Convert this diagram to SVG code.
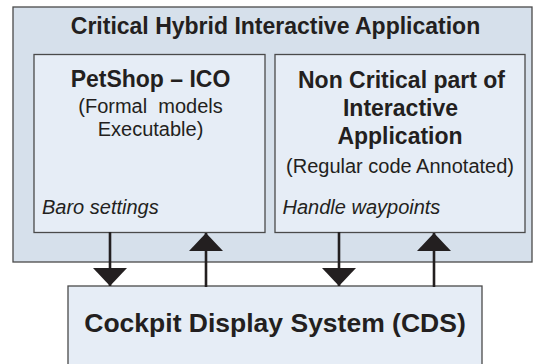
<svg xmlns="http://www.w3.org/2000/svg" width="535" height="364" viewBox="0 0 535 364">
  <style>
    .outer { fill: #d6e0eb; stroke: #4a4a4a; stroke-width: 1.3; }
    .inner { fill: #e6edf6; stroke: #4a4a4a; stroke-width: 1.3; }
    .b { font-family: "Liberation Sans", Arial, sans-serif; font-weight: bold; fill: #231f20; text-anchor: middle; }
    .r { font-family: "Liberation Sans", Arial, sans-serif; font-size: 20px; fill: #231f20; text-anchor: middle; }
    .i { font-family: "Liberation Sans", Arial, sans-serif; font-size: 20px; font-style: italic; fill: #231f20; }
    .conn { stroke: #231f20; stroke-width: 2.6; fill: none; }
  </style>
  <defs>
    <marker id="ah" markerUnits="userSpaceOnUse" markerWidth="18" markerHeight="34" viewBox="0 0 18 34" refX="18" refY="17" orient="auto">
      <path d="M0,0 L18,17 L0,34 Z" fill="#231f20"/>
    </marker>
  </defs>
  <g id="app">
    <rect class="outer" x="13" y="7" width="519" height="255"/>
    <text class="b" x="275.5" y="34" font-size="23">Critical Hybrid Interactive Application</text>
  </g>
  <g id="petshop">
    <rect class="inner" x="34" y="54.5" width="231" height="178"/>
    <text class="b" x="150.5" y="87" font-size="23">PetShop – ICO</text>
    <text class="r" x="150.5" y="113" xml:space="preserve">(Formal  models</text>
    <text class="r" x="150.5" y="136">Executable)</text>
    <text class="i" x="42" y="214">Baro settings</text>
  </g>
  <g id="noncritical">
    <rect class="inner" x="275" y="54.5" width="250" height="178"/>
    <text class="b" x="401.5" y="88" font-size="23">Non Critical part of</text>
    <text class="b" x="400.5" y="116" font-size="23">Interactive</text>
    <text class="b" x="400" y="144" font-size="23">Application</text>
    <text class="r" x="400" y="173">(Regular code Annotated)</text>
    <text class="i" x="282.5" y="214">Handle waypoints</text>
  </g>
  <g id="cds">
    <rect class="inner" x="68" y="286" width="414" height="100"/>
    <text class="b" x="275" y="332" font-size="26.5">Cockpit Display System (CDS)</text>
  </g>
  <g id="connectors">
    <line class="conn" x1="110" y1="232" x2="110" y2="286" marker-end="url(#ah)"/>
    <line class="conn" x1="206" y1="287" x2="206" y2="233" marker-end="url(#ah)"/>
    <line class="conn" x1="339" y1="232" x2="339" y2="286" marker-end="url(#ah)"/>
    <line class="conn" x1="434" y1="287" x2="434" y2="233" marker-end="url(#ah)"/>
  </g>
</svg>
